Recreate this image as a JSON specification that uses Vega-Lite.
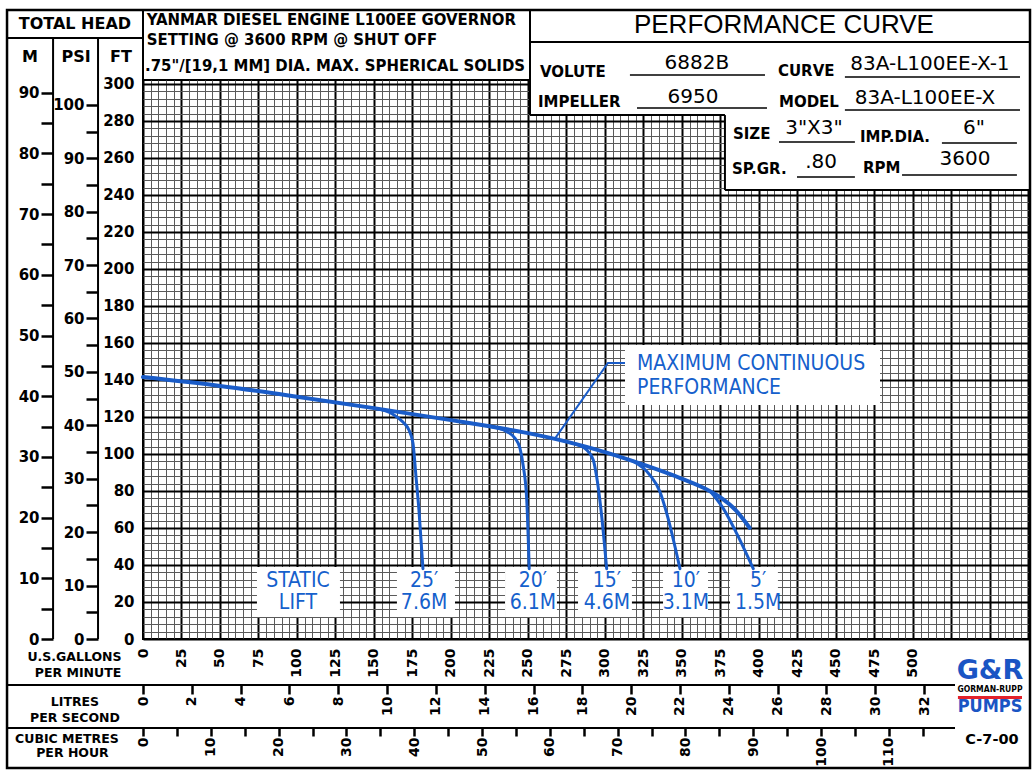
{
"$schema": "https://vega.github.io/schema/vega-lite/v6.json",
"width": 887,
"height": 559,
"autosize": {"type": "none"},
"padding": {"left": 143, "top": 80, "right": 4, "bottom": 132},
"background": "white",
"config": {
  "view": {"stroke": "black", "strokeWidth": 2},
  "axis": {"labelFont": "DejaVu Sans", "labelFontWeight": "bold", "labelColor": "black", "domain": false, "labelOverlap": false, "labelFlush": false, "labelBound": false}
},
"datasets": {
  "curves": [
    {"curve": "Head", "gpm": 0, "ft": 141.6},
    {"curve": "Head", "gpm": 50, "ft": 136.8},
    {"curve": "Head", "gpm": 100, "ft": 131.0},
    {"curve": "Head", "gpm": 150, "ft": 124.8},
    {"curve": "Head", "gpm": 200, "ft": 118.3},
    {"curve": "Head", "gpm": 225, "ft": 115.0},
    {"curve": "Head", "gpm": 250, "ft": 111.3},
    {"curve": "Head", "gpm": 275, "ft": 106.7},
    {"curve": "Head", "gpm": 300, "ft": 101.0},
    {"curve": "Head", "gpm": 325, "ft": 94.2},
    {"curve": "Head", "gpm": 350, "ft": 86.6},
    {"curve": "Head", "gpm": 365, "ft": 81.3},
    {"curve": "Head", "gpm": 375, "ft": 76.5},
    {"curve": "Head", "gpm": 385, "ft": 69.5},
    {"curve": "Head", "gpm": 394, "ft": 60.0},
    {"curve": "25 ft lift", "gpm": 150, "ft": 124.8},
    {"curve": "25 ft lift", "gpm": 162, "ft": 121.6},
    {"curve": "25 ft lift", "gpm": 168.8, "ft": 117.3},
    {"curve": "25 ft lift", "gpm": 172.7, "ft": 113.0},
    {"curve": "25 ft lift", "gpm": 175.3, "ft": 105.9},
    {"curve": "25 ft lift", "gpm": 177.3, "ft": 87.6},
    {"curve": "25 ft lift", "gpm": 179.2, "ft": 69.7},
    {"curve": "25 ft lift", "gpm": 181.8, "ft": 38.0},
    {"curve": "20 ft lift", "gpm": 225.3, "ft": 115.0},
    {"curve": "20 ft lift", "gpm": 236.2, "ft": 112.1},
    {"curve": "20 ft lift", "gpm": 241.6, "ft": 108.5},
    {"curve": "20 ft lift", "gpm": 244.8, "ft": 103.1},
    {"curve": "20 ft lift", "gpm": 247.0, "ft": 93.1},
    {"curve": "20 ft lift", "gpm": 249.2, "ft": 75.1},
    {"curve": "20 ft lift", "gpm": 250.8, "ft": 38.0},
    {"curve": "15 ft lift", "gpm": 278, "ft": 106.0},
    {"curve": "15 ft lift", "gpm": 288.1, "ft": 102.2},
    {"curve": "15 ft lift", "gpm": 292.4, "ft": 96.8},
    {"curve": "15 ft lift", "gpm": 294.6, "ft": 87.7},
    {"curve": "15 ft lift", "gpm": 297.9, "ft": 66.1},
    {"curve": "15 ft lift", "gpm": 301.1, "ft": 38.0},
    {"curve": "10 ft lift", "gpm": 318, "ft": 96.2},
    {"curve": "10 ft lift", "gpm": 329.2, "ft": 88.6},
    {"curve": "10 ft lift", "gpm": 335.7, "ft": 79.6},
    {"curve": "10 ft lift", "gpm": 340.1, "ft": 67.9},
    {"curve": "10 ft lift", "gpm": 348.7, "ft": 38.0},
    {"curve": "5 ft lift", "gpm": 368.2, "ft": 80.0},
    {"curve": "5 ft lift", "gpm": 376.8, "ft": 70.6},
    {"curve": "5 ft lift", "gpm": 385.5, "ft": 57.1},
    {"curve": "5 ft lift", "gpm": 396.3, "ft": 38.0}
  ],
  "leader": [
    {"gpm": 267.5, "ft": 108.3},
    {"gpm": 301.9, "ft": 149.2},
    {"gpm": 313.0, "ft": 149.2}
  ],
  "panels": [
    {"gpm": 251.3, "gpm2": 576, "ft": 283.2, "ft2": 305},
    {"gpm": 377.9, "gpm2": 576, "ft": 242.7, "ft2": 283.2},
    {"gpm": 313.0, "gpm2": 478.6, "ft": 126.5, "ft2": 158.9},
    {"gpm": 74.0, "gpm2": 127.9, "ft": 11.9, "ft2": 38.9},
    {"gpm": 164.9, "gpm2": 202.6, "ft": 11.9, "ft2": 38.9},
    {"gpm": 235.1, "gpm2": 268.8, "ft": 11.9, "ft2": 38.9},
    {"gpm": 282.5, "gpm2": 317.5, "ft": 11.9, "ft2": 38.9},
    {"gpm": 337.7, "gpm2": 366.9, "ft": 11.9, "ft2": 38.9},
    {"gpm": 381.2, "gpm2": 412.3, "ft": 11.9, "ft2": 38.9}
  ],
  "frame": [
    {"gpm": -88.3, "gpm2": 0, "ft": 324.9, "ft2": 324.9},
    {"gpm": -58.4, "gpm2": -58.4, "ft": 0, "ft2": 324.9},
    {"gpm": -29.2, "gpm2": -29.2, "ft": 0, "ft2": 324.9},
    {"gpm": 0, "gpm2": 0, "ft": 302.16, "ft2": 340},
    {"gpm": 251.3, "gpm2": 251.3, "ft": 283.2, "ft2": 340},
    {"gpm": 251.3, "gpm2": 576, "ft": 322.7, "ft2": 322.7},
    {"gpm": 251.3, "gpm2": 377.9, "ft": 283.2, "ft2": 283.2},
    {"gpm": 377.9, "gpm2": 377.9, "ft": 242.7, "ft2": 283.2},
    {"gpm": 377.9, "gpm2": 576, "ft": 242.7, "ft2": 242.7},
    {"gpm": -88.3, "gpm2": 527.3, "ft": -24.9, "ft2": -24.9},
    {"gpm": -88.3, "gpm2": 527.3, "ft": -48.1, "ft2": -48.1}
  ],
  "border": [
    {"gpm": -88.3, "gpm2": 576, "ft": -69.7, "ft2": 340}
  ],
  "underlines": [
    {"gpm": 316.2, "gpm2": 403.9, "ft": 304.9, "ft2": 304.9},
    {"gpm": 455.8, "gpm2": 569.5, "ft": 303.8, "ft2": 303.8},
    {"gpm": 320.8, "gpm2": 405.2, "ft": 287.0, "ft2": 287.0},
    {"gpm": 455.8, "gpm2": 569.5, "ft": 285.9, "ft2": 285.9},
    {"gpm": 413.0, "gpm2": 462.3, "ft": 268.6, "ft2": 268.6},
    {"gpm": 518.8, "gpm2": 567.5, "ft": 268.1, "ft2": 268.1},
    {"gpm": 424.7, "gpm2": 462.3, "ft": 249.7, "ft2": 249.7},
    {"gpm": 492.9, "gpm2": 567.5, "ft": 250.8, "ft2": 250.8}
  ],
  "headNotes": [
    {"gpm": 2.4, "ft": 334.6, "label": "YANMAR DIESEL ENGINE L100EE GOVERNOR"},
    {"gpm": 2.4, "ft": 323.8, "label": "SETTING @ 3600 RPM @ SHUT OFF"},
    {"gpm": 1.3, "ft": 309.7, "label": ".75\"/[19,1 MM] DIA. MAX. SPHERICAL SOLIDS"}
  ],
  "columnHeads": [
    {"gpm": -44.2, "ft": 332.4, "label": "TOTAL HEAD"},
    {"gpm": -73.4, "ft": 314.6, "label": "M"},
    {"gpm": -43.5, "ft": 314.6, "label": "PSI"},
    {"gpm": -14.3, "ft": 314.6, "label": "FT"}
  ],
  "scaleNames": [
    {"gpm": -44.5, "ft": -9.7, "label": "U.S.GALLONS"},
    {"gpm": -42.2, "ft": -18.4, "label": "PER MINUTE"},
    {"gpm": -44.2, "ft": -34.1, "label": "LITRES"},
    {"gpm": -44.2, "ft": -42.7, "label": "PER SECOND"},
    {"gpm": -49.4, "ft": -53.9, "label": "CUBIC METRES"},
    {"gpm": -45.8, "ft": -61.7, "label": "PER HOUR"}
  ],
  "infoKeys": [
    {"gpm": 257.8, "ft": 306.5, "label": "VOLUTE"},
    {"gpm": 412.3, "ft": 307.0, "label": "CURVE"},
    {"gpm": 256.5, "ft": 290.3, "label": "IMPELLER"},
    {"gpm": 413.0, "ft": 290.3, "label": "MODEL"},
    {"gpm": 383.1, "ft": 273.0, "label": "SIZE"},
    {"gpm": 465.6, "ft": 271.4, "label": "IMP.DIA."},
    {"gpm": 382.5, "ft": 254.1, "label": "SP.GR."},
    {"gpm": 467.5, "ft": 254.6, "label": "RPM"}
  ],
  "infoValues": [
    {"gpm": 359.7, "ft": 311.4, "label": "6882B"},
    {"gpm": 511.0, "ft": 310.8, "label": "83A-L100EE-X-1"},
    {"gpm": 357.1, "ft": 293.0, "label": "6950"},
    {"gpm": 507.8, "ft": 292.4, "label": "83A-L100EE-X"},
    {"gpm": 435.7, "ft": 276.2, "label": "3\"X3\""},
    {"gpm": 539.6, "ft": 276.2, "label": "6\""},
    {"gpm": 440.3, "ft": 257.8, "label": ".80"},
    {"gpm": 533.8, "ft": 259.5, "label": "3600"}
  ],
  "chartTitle": [
    {"gpm": 416.2, "ft": 331.9, "label": "PERFORMANCE CURVE"}
  ],
  "liftLabels": [
    {"gpm": 100.6, "ft": 31.5, "label": "STATIC"},
    {"gpm": 100.6, "ft": 19.2, "label": "LIFT"},
    {"gpm": 182.5, "ft": 31.5, "label": "25′"},
    {"gpm": 182.5, "ft": 19.2, "label": "7.6M"},
    {"gpm": 253.2, "ft": 31.5, "label": "20′"},
    {"gpm": 253.2, "ft": 19.2, "label": "6.1M"},
    {"gpm": 301.3, "ft": 31.5, "label": "15′"},
    {"gpm": 301.3, "ft": 19.2, "label": "4.6M"},
    {"gpm": 352.6, "ft": 31.5, "label": "10′"},
    {"gpm": 352.6, "ft": 19.2, "label": "3.1M"},
    {"gpm": 399.4, "ft": 31.5, "label": "5′"},
    {"gpm": 399.4, "ft": 19.2, "label": "1.5M"}
  ],
  "mcpLabel": [
    {"gpm": 320.8, "ft": 148.6, "label": "MAXIMUM CONTINUOUS"},
    {"gpm": 320.8, "ft": 135.9, "label": "PERFORMANCE"}
  ],
  "logoMark": [{"gpm": 550.0, "ft": -17.3, "label": "G&R"}],
  "logoName": [{"gpm": 550.0, "ft": -27.0, "label": "GORMAN-RUPP"}],
  "logoBar": [{"gpm": 529.2, "gpm2": 570.8, "ft": -31.6, "ft2": -31.6}],
  "logoPumps": [{"gpm": 550.0, "ft": -36.5, "label": "PUMPS"}],
  "drawingNo": [{"gpm": 551.3, "ft": -54.6, "label": "C-7-00"}]
},
"layer": [
  {
    "encoding": {
      "x": {"field": "gpm", "type": "quantitative",
        "scale": {"domain": [0, 576], "nice": false, "zero": false},
        "axis": {"title": null, "orient": "bottom", "ticks": false, "grid": true,
          "values": [0,5,10,15,20,25,30,35,40,45,50,55,60,65,70,75,80,85,90,95,100,105,110,115,120,125,130,135,140,145,150,155,160,165,170,175,180,185,190,195,200,205,210,215,220,225,230,235,240,245,250,255,260,265,270,275,280,285,290,295,300,305,310,315,320,325,330,335,340,345,350,355,360,365,370,375,380,385,390,395,400,405,410,415,420,425,430,435,440,445,450,455,460,465,470,475,480,485,490,495,500,505,510,515,520,525,530,535,540,545,550,555,560,565,570,575],
          "labelExpr": "datum.value % 25 === 0 && datum.value <= 500 ? datum.label : ''",
          "labelAngle": 270, "labelPadding": 9, "labelFontSize": 14,
          "gridColor": {"condition": {"test": "datum.value % 25 === 0", "value": "black"}, "value": "#5a5a5a"},
          "gridWidth": {"condition": {"test": "datum.value % 25 === 0", "value": 2}, "value": 1},
          "gridOpacity": 1}},
      "y": {"field": "ft", "type": "quantitative",
        "scale": {"domain": [0, 302.16], "nice": false, "zero": false},
        "axis": {"title": null, "orient": "left", "ticks": false, "grid": true,
          "values": [0,4,8,12,16,20,24,28,32,36,40,44,48,52,56,60,64,68,72,76,80,84,88,92,96,100,104,108,112,116,120,124,128,132,136,140,144,148,152,156,160,164,168,172,176,180,184,188,192,196,200,204,208,212,216,220,224,228,232,236,240,244,248,252,256,260,264,268,272,276,280,284,288,292,296,300],
          "labelExpr": "datum.value % 20 === 0 ? datum.label : ''",
          "labelPadding": 9, "labelFontSize": 15,
          "gridColor": {"condition": {"test": "datum.value % 20 === 0", "value": "black"}, "value": "#5a5a5a"},
          "gridWidth": {"condition": {"test": "datum.value % 20 === 0", "value": 2}, "value": 1},
          "gridOpacity": 1}}
    },
    "layer": [
      {"data": {"name": "panels"}, "mark": {"type": "rect", "color": "white", "opacity": 1},
       "encoding": {"x2": {"field": "gpm2"}, "y2": {"field": "ft2"}}},
      {"data": {"name": "curves"}, "transform": [{"filter": "datum.curve !== 'Head'"}],
       "mark": {"type": "line", "color": "#1a5cc8", "strokeWidth": 3, "interpolate": "monotone", "strokeCap": "round"},
       "encoding": {"detail": {"field": "curve", "type": "nominal"}}},
      {"data": {"name": "curves"}, "transform": [{"filter": "datum.curve === 'Head'"}],
       "mark": {"type": "line", "color": "#1a5cc8", "strokeWidth": 4, "interpolate": "monotone", "strokeCap": "round"},
       "encoding": {}},
      {"data": {"name": "leader"}, "mark": {"type": "line", "color": "#1a5cc8", "strokeWidth": 2}, "encoding": {}},
      {"data": {"name": "frame"}, "mark": {"type": "rule", "color": "black", "strokeWidth": 2},
       "encoding": {"x2": {"field": "gpm2"}, "y2": {"field": "ft2"}}},
      {"data": {"name": "underlines"}, "mark": {"type": "rule", "color": "black", "strokeWidth": 1.5},
       "encoding": {"x2": {"field": "gpm2"}, "y2": {"field": "ft2"}}},
      {"data": {"name": "border"}, "mark": {"type": "rect", "fillOpacity": 0, "stroke": "black", "strokeWidth": 2.5},
       "encoding": {"x2": {"field": "gpm2"}, "y2": {"field": "ft2"}}},
      {"data": {"name": "logoBar"}, "mark": {"type": "rule", "color": "#e2222b", "strokeWidth": 3},
       "encoding": {"x2": {"field": "gpm2"}, "y2": {"field": "ft2"}}},
      {"data": {"name": "headNotes"}, "mark": {"type": "text", "font": "DejaVu Sans Condensed", "fontWeight": "bold", "fontSize": 16.6, "align": "left", "baseline": "middle", "color": "black"},
       "encoding": {"text": {"field": "label"}}},
      {"data": {"name": "columnHeads"}, "mark": {"type": "text", "font": "DejaVu Sans", "fontWeight": "bold", "fontSize": 16, "align": "center", "baseline": "middle", "color": "black"},
       "encoding": {"text": {"field": "label"}}},
      {"data": {"name": "scaleNames"}, "mark": {"type": "text", "font": "DejaVu Sans", "fontWeight": "bold", "fontSize": 12.5, "align": "center", "baseline": "middle", "color": "black"},
       "encoding": {"text": {"field": "label"}}},
      {"data": {"name": "infoKeys"}, "mark": {"type": "text", "font": "DejaVu Sans", "fontWeight": "bold", "fontSize": 15, "align": "left", "baseline": "middle", "color": "black"},
       "encoding": {"text": {"field": "label"}}},
      {"data": {"name": "infoValues"}, "mark": {"type": "text", "font": "DejaVu Sans", "fontWeight": "normal", "fontSize": 20, "align": "center", "baseline": "middle", "color": "black"},
       "encoding": {"text": {"field": "label"}}},
      {"data": {"name": "chartTitle"}, "mark": {"type": "text", "font": "Liberation Sans", "fontWeight": "normal", "fontSize": 26, "align": "center", "baseline": "middle", "color": "black"},
       "encoding": {"text": {"field": "label"}}},
      {"data": {"name": "liftLabels"}, "mark": {"type": "text", "font": "DejaVu Sans Condensed", "fontSize": 21, "align": "center", "baseline": "middle", "color": "#1560cc"},
       "encoding": {"text": {"field": "label"}}},
      {"data": {"name": "mcpLabel"}, "mark": {"type": "text", "font": "DejaVu Sans Condensed", "fontSize": 21, "align": "left", "baseline": "middle", "color": "#1560cc"},
       "encoding": {"text": {"field": "label"}}},
      {"data": {"name": "logoMark"}, "mark": {"type": "text", "font": "DejaVu Sans", "fontWeight": "bold", "fontSize": 27, "align": "center", "baseline": "middle", "color": "#1a55c4"},
       "encoding": {"text": {"field": "label"}}},
      {"data": {"name": "logoName"}, "mark": {"type": "text", "font": "DejaVu Sans Condensed", "fontWeight": "bold", "fontSize": 8.5, "align": "center", "baseline": "middle", "color": "black"},
       "encoding": {"text": {"field": "label"}}},
      {"data": {"name": "logoPumps"}, "mark": {"type": "text", "font": "DejaVu Sans Condensed", "fontWeight": "bold", "fontSize": 18, "align": "center", "baseline": "middle", "color": "#1a55c4"},
       "encoding": {"text": {"field": "label"}}},
      {"data": {"name": "drawingNo"}, "mark": {"type": "text", "font": "DejaVu Sans", "fontWeight": "bold", "fontSize": 14.5, "align": "center", "baseline": "middle", "color": "black"},
       "encoding": {"text": {"field": "label"}}}
    ]
  },
  {
    "data": {"values": [{"psi": 0}, {"psi": 100}]},
    "mark": {"type": "rule", "opacity": 0},
    "encoding": {"y": {"field": "psi", "type": "quantitative",
      "scale": {"domain": [0, 104.645], "nice": false, "zero": false},
      "axis": {"title": null, "orient": "left", "offset": 45, "grid": false,
        "values": [0,5,10,15,20,25,30,35,40,45,50,55,60,65,70,75,80,85,90,95,100],
        "labelExpr": "datum.value % 10 === 0 ? datum.label : ''",
        "tickSize": 12, "tickWidth": 2.5, "tickColor": "black", "labelPadding": 2, "labelFontSize": 15}}}
  },
  {
    "data": {"values": [{"metres": 0}, {"metres": 90}]},
    "mark": {"type": "rule", "opacity": 0},
    "encoding": {"y": {"field": "metres", "type": "quantitative",
      "scale": {"domain": [0, 92.099], "nice": false, "zero": false},
      "axis": {"title": null, "orient": "left", "offset": 90, "grid": false,
        "values": [0,5,10,15,20,25,30,35,40,45,50,55,60,65,70,75,80,85,90],
        "labelExpr": "datum.value % 10 === 0 ? datum.label : ''",
        "tickSize": 12, "tickWidth": 2.5, "tickColor": "black", "labelPadding": 2, "labelFontSize": 15}}}
  },
  {
    "data": {"values": [{"lps": 0}, {"lps": 32}]},
    "mark": {"type": "rule", "opacity": 0},
    "encoding": {"x": {"field": "lps", "type": "quantitative",
      "scale": {"domain": [0, 36.34], "nice": false, "zero": false},
      "axis": {"title": null, "orient": "bottom", "offset": 46, "grid": false,
        "values": [0,2,4,6,8,10,12,14,16,18,20,22,24,26,28,30,32],
        "tickSize": 9, "tickWidth": 2.5, "tickColor": "black", "labelAngle": 270, "labelPadding": 2, "labelFontSize": 14}}}
  },
  {
    "data": {"values": [{"m3h": 0}, {"m3h": 110}]},
    "mark": {"type": "rule", "opacity": 0},
    "encoding": {"x": {"field": "m3h", "type": "quantitative",
      "scale": {"domain": [0, 130.82], "nice": false, "zero": false},
      "axis": {"title": null, "orient": "bottom", "offset": 89, "grid": false,
        "values": [0,5,10,15,20,25,30,35,40,45,50,55,60,65,70,75,80,85,90,95,100,105,110,115],
        "labelExpr": "datum.value % 10 === 0 ? datum.label : ''",
        "tickSize": 8, "tickWidth": 2.5, "tickColor": "black", "labelAngle": 270, "labelPadding": 1, "labelFontSize": 14}}}
  }
],
"resolve": {"scale": {"x": "independent", "y": "independent"}}
}
